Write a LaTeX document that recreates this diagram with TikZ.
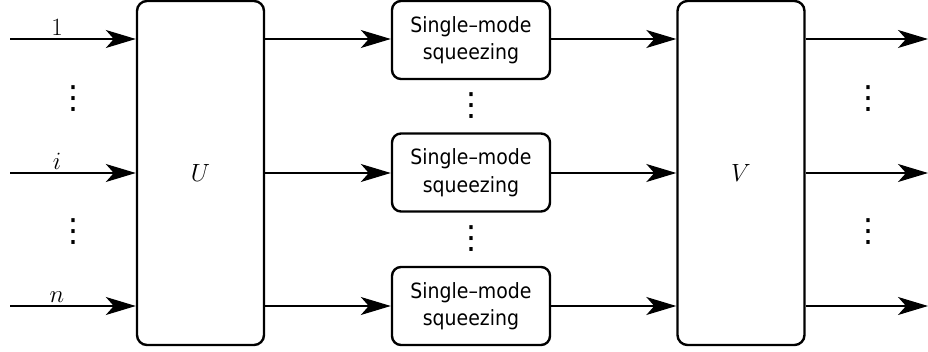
\documentclass[tikz,border=0pt]{standalone}
\usepackage{fontspec}
\newfontfamily\boxfont{DejaVu Sans Condensed}
\newfontfamily\dotfont{DejaVu Sans}
\usetikzlibrary{arrows.meta,positioning}

\tikzset{
  mat/.style={draw,line width=2.4pt,rounded corners=10pt,minimum width=127pt,
    minimum height=344pt,inner sep=0pt,font=\fontsize{24}{28}\selectfont},
  sqz/.style={draw,line width=2.4pt,rounded corners=9pt,minimum width=158pt,
    minimum height=78pt,inner sep=0pt,align=center,
    font=\boxfont\fontsize{21}{27.5}\selectfont},
  wire/.style={line width=1.2pt,-{Stealth[length=30pt,width=18pt,inset=8pt]}},
  idx/.style={above,font=\fontsize{24}{28}\selectfont},
  dots/.style={font=\dotfont\fontsize{32}{36}\selectfont}
}

\begin{document}
\begin{tikzpicture}[x=1pt,y=-1pt]
        \useasboundingbox (0,0) rectangle (928,352);
        % unitary blocks
        \node[mat] (U) at (200.5,173) {$U$};
        \node[mat] (V) at (741,173) {$V$};
        % squeezers
        \node[sqz] (s1) at (471,40) {Single–mode\\squeezing};
        \node[sqz] (si) at (471,172.5) {Single–mode\\squeezing};
        \node[sqz] (sn) at (471,306) {Single–mode\\squeezing};
        % inputs and outputs
        \coordinate (in1) at (10,39);
        \coordinate (ini) at (10,173);
        \coordinate (inn) at (10,306);
        \coordinate (out1) at (928,39);
        \coordinate (outi) at (928,173);
        \coordinate (outn) at (928,306);
        \draw[wire] (in1) -- (in1 -| U.west);
        \draw[wire] (ini) -- (ini -| U.west);
        \draw[wire] (inn) -- (inn -| U.west);
        \node[idx] (l1) at (57,39) {$1$};
        \node[idx] (li) at (57,173) {$i$};
        \node[idx] (ln) at (57,306) {$n$};
        \draw[wire] (in1 -| U.east) -- (in1 -| s1.west);
        \draw[wire] (ini -| U.east) -- (ini -| si.west);
        \draw[wire] (inn -| U.east) -- (inn -| sn.west);
        \draw[wire] (in1 -| s1.east) -- (in1 -| V.west);
        \draw[wire] (ini -| si.east) -- (ini -| V.west);
        \draw[wire] (inn -| sn.east) -- (inn -| V.west);
        \draw[wire] (out1 -| V.east) -- (out1);
        \draw[wire] (outi -| V.east) -- (outi);
        \draw[wire] (outn -| V.east) -- (outn);
        % dots
        \node[dots] (d1) at (73,99) {⋮};
        \node[dots] (d2) at (73,232) {⋮};
        \node[dots] (d3) at (471,106) {⋮};
        \node[dots] (d4) at (471,239) {⋮};
        \node[dots] (d5) at (868,99) {⋮};
        \node[dots] (d6) at (868,232) {⋮};
    \end{tikzpicture}
\end{document}
